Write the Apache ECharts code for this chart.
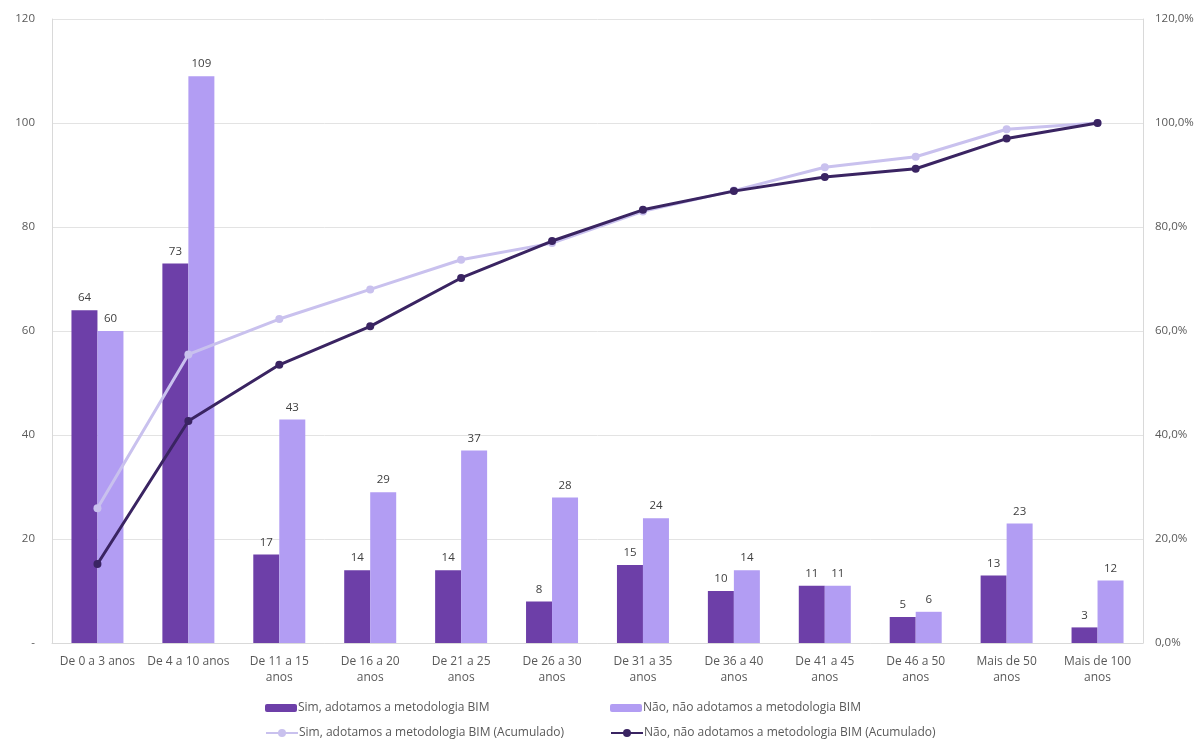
<!DOCTYPE html>
<html>
<head>
<meta charset="utf-8">
<script src="https://cdn.jsdelivr.net/npm/echarts@6/dist/echarts.min.js"></script>
<style>
  html, body { margin: 0; padding: 0; background: #fff; }
  #chart { width: 1199px; height: 743px; }
</style>
</head>
<body>
<div id="chart"></div>
<script>
// Age of company (years) vs. BIM adoption
const categories = [
  'De 0 a 3 anos', 'De 4 a 10 anos', 'De 11 a 15\nanos', 'De 16 a 20\nanos',
  'De 21 a 25\nanos', 'De 26 a 30\nanos', 'De 31 a 35\nanos', 'De 36 a 40\nanos',
  'De 41 a 45\nanos', 'De 46 a 50\nanos', 'Mais de 50\nanos', 'Mais de 100\nanos'
];
const simCount = [64, 73, 17, 14, 14, 8, 15, 10, 11, 5, 13, 3];
const naoCount = [60, 109, 43, 29, 37, 28, 24, 14, 11, 6, 23, 12];
// cumulative shares (fraction of each group)
const simCum = [0.259, 0.555, 0.623, 0.680, 0.737, 0.769, 0.830, 0.870, 0.915, 0.935, 0.988, 1.0];
const naoCum = [0.152, 0.427, 0.535, 0.609, 0.702, 0.773, 0.833, 0.869, 0.896, 0.912, 0.970, 1.0];
const leftTicks = [0, 20, 40, 60, 80, 100, 120];

const names = {
  simBar: 'Sim, adotamos a metodologia BIM',
  naoBar: 'Não, não adotamos a metodologia BIM',
  simLine: 'Sim, adotamos a metodologia BIM (Acumulado)',
  naoLine: 'Não, não adotamos a metodologia BIM (Acumulado)'
};
const colors = { simBar: '#6D3FA8', naoBar: '#B29DF3', simLine: '#C9C1EE', naoLine: '#3A2462' };
const FONT = 'Open Sans';
const textCol = '#595959';

const chart = echarts.init(document.getElementById('chart'), null, { renderer: 'canvas' });

function legendItem(name, left, top, isLine) {
  return {
    data: [name], left: left, top: top, orient: 'horizontal', padding: 0,
    itemWidth: 32, itemHeight: isLine ? 10 : 8, itemGap: 0,
    textStyle: { fontFamily: FONT, fontSize: 12, color: textCol, padding: [0, 0, 0, -4] },
    selectedMode: false
  };
}

chart.setOption({
  animation: false,
  textStyle: { fontFamily: FONT },
  grid: { left: 52, right: 56, top: 19, bottom: 100, containLabel: false },
  legend: [
    legendItem(names.simBar, 265, 702, false),
    legendItem(names.naoBar, 610, 702, false),
    legendItem(names.simLine, 265, 727, true),
    legendItem(names.naoLine, 610, 727, true)
  ],
  xAxis: {
    type: 'category', data: categories,
    axisLine: { show: true, lineStyle: { color: '#d9d9d9' } },
    axisTick: { show: false },
    axisLabel: { color: textCol, fontSize: 12, fontFamily: FONT, margin: 11, lineHeight: 16, interval: 0 }
  },
  yAxis: [
    {
      type: 'value', min: 0, max: 120, interval: 20,
      axisLine: { show: true, lineStyle: { color: '#d9d9d9' } },
      axisTick: { show: false },
      splitLine: { lineStyle: { color: '#e3e3e3' } },
      axisLabel: {
        color: textCol, fontSize: 11.5, fontFamily: FONT, margin: 17,
        formatter: v => (leftTicks.indexOf(v) === 0 ? '-' : String(v))
      }
    },
    {
      type: 'value', min: 0, max: 1.2, interval: 0.2,
      axisLine: { show: true, lineStyle: { color: '#d9d9d9' } },
      axisTick: { show: false },
      splitLine: { show: false },
      axisLabel: {
        color: textCol, fontSize: 11.5, fontFamily: FONT, margin: 12,
        formatter: v => (v * 100).toFixed(1).replace('.', ',') + '%'
      }
    }
  ],
  series: [
    {
      name: names.simBar, type: 'bar', data: simCount, yAxisIndex: 0,
      barWidth: 26, barGap: '0%',
      itemStyle: { color: colors.simBar },
      label: { show: true, position: 'top', color: '#404040', fontSize: 11.5, fontFamily: FONT, distance: 6 }
    },
    {
      name: names.naoBar, type: 'bar', data: naoCount, yAxisIndex: 0,
      barWidth: 26, barGap: '0%',
      itemStyle: { color: colors.naoBar },
      label: { show: true, position: 'top', color: '#404040', fontSize: 11.5, fontFamily: FONT, distance: 6 }
    },
    {
      name: names.simLine, type: 'line', data: simCum, yAxisIndex: 1,
      symbol: 'circle', symbolSize: 8,
      lineStyle: { color: colors.simLine, width: 3 },
      itemStyle: { color: colors.simLine },
      z: 3
    },
    {
      name: names.naoLine, type: 'line', data: naoCum, yAxisIndex: 1,
      symbol: 'circle', symbolSize: 8,
      lineStyle: { color: colors.naoLine, width: 3 },
      itemStyle: { color: colors.naoLine },
      z: 4
    }
  ]
});
</script>
</body>
</html>
